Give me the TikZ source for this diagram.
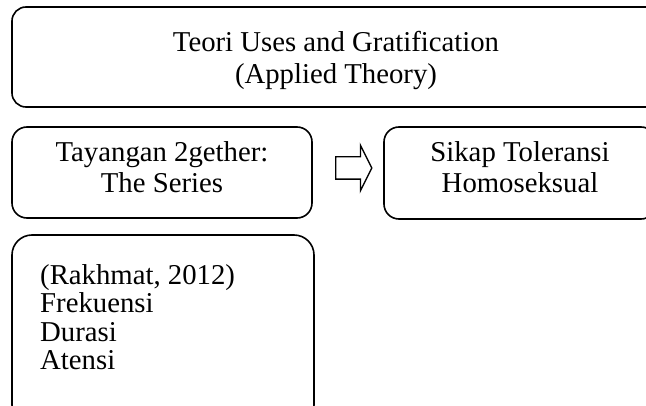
\documentclass[tikz,border=0pt]{standalone}
\usepackage{fontspec}
\setmainfont{Liberation Serif}
\usetikzlibrary{shapes.arrows, positioning}
\tikzstyle{rbox} = [draw, line width=1.6pt, inner sep=0pt]
\tikzstyle{txt} = [inner sep=0pt, align=center]
\tikzstyle{flow} = [single arrow, draw, line width=1.4pt, inner xsep=0pt, inner ysep=10.5pt, minimum height=36pt, single arrow head extend=11.5pt, single arrow tip angle=127]

\begin{document}
\begin{tikzpicture}[x=1pt, y=-1pt]
			\useasboundingbox (0,0) rectangle (646,406);
			\clip (0,0) rectangle (646,406);

			\node [rbox, rounded corners=14pt, minimum width=648pt, minimum height=100pt] (theory) at (336, 57) {};
			\node [rbox, rounded corners=15pt, minimum width=300pt, minimum height=91pt] (show) at (162, 172.5) {};
			\node [rbox, rounded corners=15pt, minimum width=272pt, minimum height=92pt] (attitude) at (520, 173) {};
			\node [rbox, rounded corners=20pt, minimum width=302pt, minimum height=190pt] (media) at (163, 330) {};
			\node [flow] (arr) at (351, 168) {};

			\node [txt, font=\fontsize{28.75}{32}\selectfont] (theorytext) at (336, 60) {Teori Uses and Gratification\\(Applied Theory)};
			\node [txt, font=\fontsize{28.75}{31}\selectfont] (showtext) at (162, 166.7) {Tayangan 2gether:\\The Series};
			\node [txt, font=\fontsize{28.75}{31}\selectfont] (attitudetext) at (520, 166.7) {Sikap Toleransi\\Homoseksual};
			\node [txt, align=left, anchor=west, font=\fontsize{28.75}{28.5}\selectfont] (mediatext) at (40, 317) {(Rakhmat, 2012)\\Frekuensi\\Durasi\\Atensi};
		\end{tikzpicture}
\end{document}
